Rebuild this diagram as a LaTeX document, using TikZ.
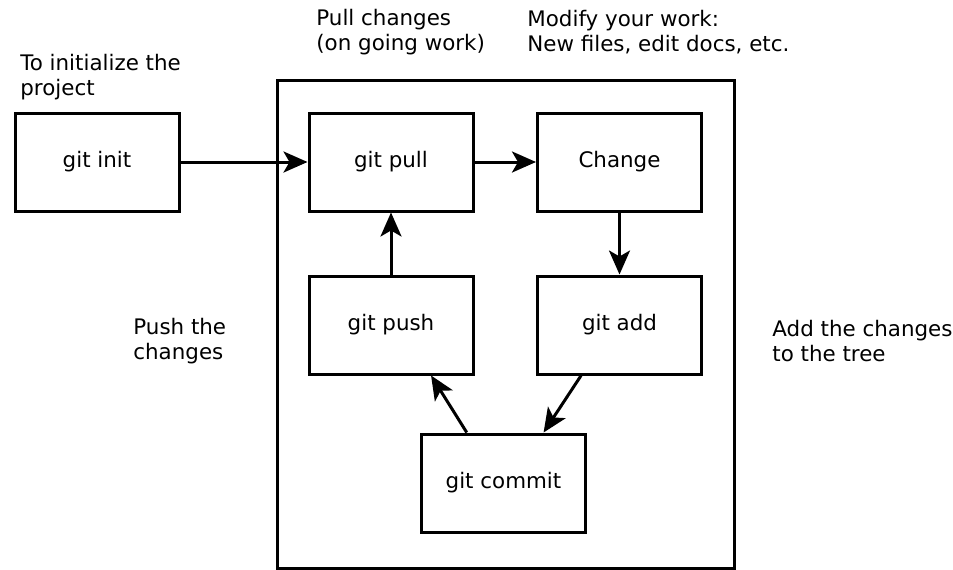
\documentclass[tikz,border=0pt]{standalone}
\usepackage{fontspec}
\setmainfont{DejaVu Sans}
\usepackage{tikz}
\usetikzlibrary{arrows.meta,positioning,calc}

\begin{document}
\begin{tikzpicture}[
    x=0.5pt, y=-0.5pt,
    gitbox/.style={rectangle, draw=black, line width=1.5pt, fill=white,
                 minimum width=82pt, minimum height=49pt, text centered,
                 font=\fontsize{10.7}{12.5}\selectfont, text=black},
    note/.style={font=\fontsize{10.7}{12.5}\selectfont, anchor=west, align=left, inner sep=0pt},
    arrow/.style={-{Stealth[length=12pt,width=10.5pt,inset=3pt]}, line width=1.5pt}
]
\useasboundingbox (0,0) rectangle (953,569);
% working area
\draw[line width=1.5pt] (277,80) rectangle (734,568);
\node[gitbox] (init) at (97,162) {git init};
\node[gitbox] (pull) at (391,162) {git pull};
\node[gitbox] (change) at (619.5,162) {Change};
\node[gitbox] (push) at (391,325) {git push};
\node[gitbox] (add) at (619.5,325) {git add};
\node[gitbox] (commit) at (503.5,483) {git commit};
\node[note] (ninit) at (20,77) {To initialize the\\project};
\node[note] (npull) at (316,32) {Pull changes\\(on going work)};
\node[note] (nchange) at (527,32) {Modify your work:\\New files, edit docs, etc.};
\node[note] (npush) at (133,341) {Push the\\changes};
\node[note] (nadd) at (772,341) {Add the changes\\to the tree};
\draw[arrow] (init) -- (pull);
\draw[arrow] (pull) -- (change);
\draw[arrow] (change) -- (add);
\draw[arrow] ($(add.south west)!0.27!(add.south east)$) -- ($(commit.north west)!0.74!(commit.north east)$);
\draw[arrow] ($(commit.north west)!0.28!(commit.north east)$) -- ($(push.south west)!0.74!(push.south east)$);
\draw[arrow] (push) -- (pull);
\end{tikzpicture}
\end{document}
